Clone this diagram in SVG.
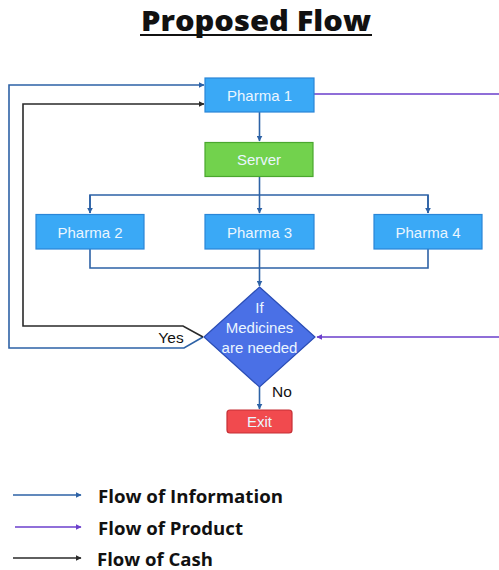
<svg xmlns="http://www.w3.org/2000/svg" width="499" height="570" viewBox="0 0 499 570">
<style>
.box{fill:#3aa9f6;stroke:#2a86d8;stroke-width:1.2}
.nt{font-family:"Liberation Sans",Arial,sans-serif;font-size:15px;fill:#eaf6ff;text-anchor:middle;dominant-baseline:central}
.lbl{font-family:"Liberation Sans",Arial,sans-serif;font-size:15.5px;fill:#111;text-anchor:middle;dominant-baseline:central}
.info{fill:none;stroke:#2d62a6;stroke-width:1.6}
.prod{fill:none;stroke:#6b3fcc;stroke-width:1.6}
.cash{fill:none;stroke:#2a2a2a;stroke-width:1.6}
.leg{font-family:"Open Sans","Liberation Sans",sans-serif;font-weight:700;font-size:17px;fill:#111;dominant-baseline:central}
</style>
<defs>
<marker id="ab" viewBox="0 0 10 10" refX="9" refY="5" markerWidth="6" markerHeight="6" markerUnits="userSpaceOnUse" orient="auto"><path d="M0,0L10,5L0,10z" fill="#2d62a6"/></marker>
<marker id="ap" viewBox="0 0 10 10" refX="9" refY="5" markerWidth="6" markerHeight="6" markerUnits="userSpaceOnUse" orient="auto"><path d="M0,0L10,5L0,10z" fill="#6b3fcc"/></marker>
<marker id="ak" viewBox="0 0 10 10" refX="9" refY="5" markerWidth="6" markerHeight="6" markerUnits="userSpaceOnUse" orient="auto"><path d="M0,0L10,5L0,10z" fill="#2a2a2a"/></marker>
</defs>
<rect width="499" height="570" fill="#fff"/>
<g id="title">
<text x="256" y="31" font-family="'Open Sans','Liberation Sans',sans-serif" font-weight="800" font-size="28" text-anchor="middle" fill="#111" textLength="230" lengthAdjust="spacingAndGlyphs">Proposed Flow</text>
<line x1="140" y1="35" x2="372" y2="35" stroke="#111" stroke-width="2.2"/>
</g>
<g id="connectors">
<path class="info" d="M259.5,112 V141" marker-end="url(#ab)"/>
<path class="info" d="M259.5,177 V213" marker-end="url(#ab)"/>
<path class="info" d="M90,213 V195 H428 V213" />
<path class="info" d="M90,195 V213" marker-end="url(#ab)"/>
<path class="info" d="M428,195 V213" marker-end="url(#ab)"/>
<path class="info" d="M90,249 V268 H428 V249"/>
<path class="info" d="M259.5,249 V286" marker-end="url(#ab)"/>
<path class="info" d="M259.5,387 V409" marker-end="url(#ab)"/>
<path class="info" d="M203,337 L184,348 H9 V85 H204" marker-end="url(#ab)"/>
<path class="cash" d="M203,337 L183,326 H23 V104 H204" marker-end="url(#ak)"/>
<path class="prod" d="M314,94 H502 V337 H317" marker-end="url(#ap)"/>
</g>
<g id="pharma1"><rect class="box" x="205" y="78" width="109" height="34"/><text class="nt" x="259.5" y="95">Pharma 1</text></g>
<g id="server"><rect x="205" y="142.5" width="108" height="34" fill="#72d24d" stroke="#4aa72e" stroke-width="1.2"/><text class="nt" x="259" y="159.5">Server</text></g>
<g id="pharma2"><rect class="box" x="36" y="214.5" width="108" height="34.5"/><text class="nt" x="90" y="232">Pharma 2</text></g>
<g id="pharma3"><rect class="box" x="205" y="214.5" width="109" height="34.5"/><text class="nt" x="259.5" y="232">Pharma 3</text></g>
<g id="pharma4"><rect class="box" x="374" y="214.5" width="108" height="34.5"/><text class="nt" x="428" y="232">Pharma 4</text></g>
<g id="decision">
<polygon points="259.5,287 315,337 259.5,387 204,337" fill="#4a70e6" stroke="#2a4db5" stroke-width="1.2"/>
<text class="nt" x="259.5" y="307">If</text>
<text class="nt" x="259.5" y="327">Medicines</text>
<text class="nt" x="259.5" y="347">are needed</text>
</g>
<g id="exit"><rect x="227" y="410" width="65" height="23" rx="3" fill="#f14a4e" stroke="#c52f35" stroke-width="1.2"/><text class="nt" x="259.5" y="421.5">Exit</text></g>
<text class="lbl" x="171" y="337">Yes</text>
<text class="lbl" x="282" y="391">No</text>
<g id="legend">
<line class="info" x1="13" y1="495" x2="81" y2="495" marker-end="url(#ab)"/>
<text class="leg" x="98" y="496" textLength="185" lengthAdjust="spacingAndGlyphs">Flow of Information</text>
<line class="prod" x1="15" y1="527" x2="81" y2="527" marker-end="url(#ap)"/>
<text class="leg" x="98" y="528" textLength="145" lengthAdjust="spacingAndGlyphs">Flow of Product</text>
<line class="cash" x1="13" y1="558" x2="81" y2="558" marker-end="url(#ak)"/>
<text class="leg" x="97" y="559" textLength="116" lengthAdjust="spacingAndGlyphs">Flow of Cash</text>
</g>
</svg>
